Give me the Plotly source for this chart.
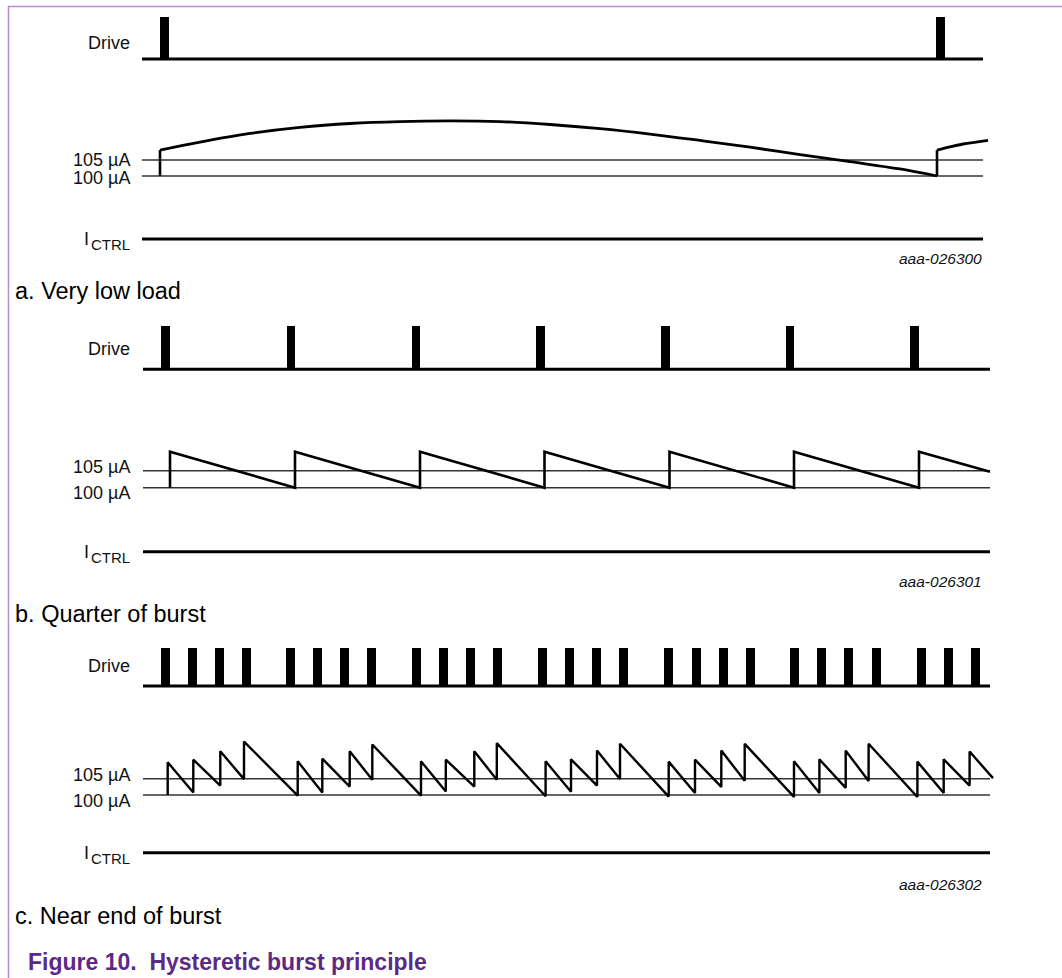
import plotly.graph_objects as go

W, H = 1062, 978

# ---------------- data (time in diagram units, currents in µA) ----------------
# Panel a - very low load
a_span = [142, 983]
a_drive_start = [160, 936]
a_jump_t = [160, 937]
a_jump_from = [100.0, 100.0]
a_jump_to = [108.1, 108.1]
a_curve1_t = [160, 200, 250, 300, 350, 400, 450, 500, 550, 600, 650, 700, 750, 800, 850, 900, 937]
a_curve1_i = [108.1, 110.6, 113.3, 115.2, 116.4, 117.0, 117.2, 117.0, 116.1, 114.8, 113.1, 111.1,
              109.0, 106.7, 104.5, 102.2, 100.0]
a_curve2_t = [937, 950, 963, 976, 988]
a_curve2_i = [108.1, 109.1, 110.0, 110.6, 111.1]

# Panel b - quarter of burst
b_span = [143, 990]
b_drive_start = [161, 286.5, 411.5, 536, 661, 785.5, 910]
b_jump_t = [170, 295, 420, 544.5, 669.5, 794, 919]
b_jump_from = [100.0, 100.0, 100.0, 100.0, 100.0, 100.0, 100.0]
b_jump_to = [110.6, 110.6, 110.6, 110.6, 110.6, 110.6, 110.6]
b_end = [990, 104.7]

# Panel c - near end of burst
c_span = [143, 990]
c_drive_start = [161, 188, 215, 242, 286, 313, 340, 367, 412, 439, 466, 493,
                 538, 565, 592, 619, 664, 692, 719, 746, 790, 817, 844, 872,
                 917, 944, 971]
c_jump_t = [167.7, 193.3, 220.3, 244.0, 297.7, 322.3, 349.7, 372.3,
            421.0, 445.8, 474.3, 496.8, 545.6, 571.0, 597.0, 620.0,
            668.7, 695.0, 721.3, 744.7, 794.0, 819.4, 845.7, 868.6,
            917.4, 943.7, 969.6]
c_jump_from = [100.0, 100.8, 102.9, 104.9, 99.8, 100.8, 102.6, 104.7,
               99.8, 101.1, 102.6, 104.7, 99.6, 101.0, 102.9, 104.9,
               99.5, 100.6, 102.5, 104.4, 99.4, 100.6, 102.2, 104.3,
               99.4, 100.6, 102.9]
c_jump_to = [110.1, 110.9, 113.5, 116.5, 110.4, 111.2, 113.5, 115.6,
             110.4, 110.9, 113.5, 116.0, 110.4, 111.0, 113.7, 115.8,
             110.3, 110.9, 113.7, 115.8, 110.4, 111.0, 113.7, 115.8,
             110.3, 111.0, 113.4]
c_end = [993, 105.2]

thresholds = [105, 100]
pulse_width = 8.6

FONT = "Arial, Liberation Sans, sans-serif"
INK = "#000000"


def yaxis_from(v0, p0, v1, p1, top, bot):
    s = (p0 - p1) / (v1 - v0)
    lo = v0 - (bot - p0) / s
    hi = v0 + (p0 - top) / s
    return dict(domain=[1 - bot / H, 1 - top / H], range=[lo, hi], visible=False,
                fixedrange=True, showgrid=False, zeroline=False)


fig = go.Figure()
layout_axes = {}
annotations = []
ax_counter = [0]


def new_axis(spec):
    ax_counter[0] += 1
    n = ax_counter[0]
    name = "yaxis" if n == 1 else f"yaxis{n}"
    layout_axes[name] = spec
    return "y" if n == 1 else f"y{n}"


def sawtooth(jt, jf, jto, end):
    xs, ys = [], []
    for t, f, to in zip(jt, jf, jto):
        xs += [t, t]
        ys += [f, to]
    xs.append(end[0])
    ys.append(end[1])
    return xs, ys


panels = [
    dict(span=a_span, drive=a_drive_start, drive_px=(59, 17), cur_px=(176, 160), ictrl_px=239,
         code="aaa-026300", code_y=258, caption="a. Very low load", cap_y=291,
         lab=(43, 160, 178, 240)),
    dict(span=b_span, drive=b_drive_start, drive_px=(369.3, 326), cur_px=(487.7, 470.7), ictrl_px=551.7,
         code="aaa-026301", code_y=581, caption="b. Quarter of burst", cap_y=614,
         lab=(349, 466.7, 492.7, 553)),
    dict(span=c_span, drive=c_drive_start, drive_px=(686, 648.3), cur_px=(795, 778.8), ictrl_px=852.7,
         code="aaa-026302", code_y=884, caption="c. Near end of burst", cap_y=916,
         lab=(666, 775, 801, 854)),
]

for k, p in enumerate(panels):
    d0, d1 = p["drive_px"]
    yd = new_axis(yaxis_from(0, d0, 1, d1, d1 - 8, d0 + 8))
    c100, c105 = p["cur_px"]
    yc = new_axis(yaxis_from(100, c100, 105, c105, c105 - 60, c100 + 12))
    yi = new_axis(yaxis_from(0, p["ictrl_px"], 1, p["ictrl_px"] - 10, p["ictrl_px"] - 10, p["ictrl_px"] + 10))

    # Drive baseline + pulses
    fig.add_trace(go.Scatter(x=p["span"], y=[0, 0], mode="lines", yaxis=yd,
                             line=dict(color=INK, width=3), hoverinfo="skip"))
    fig.add_trace(go.Bar(x=[s + pulse_width / 2 for s in p["drive"]], y=[1] * len(p["drive"]),
                         base=0, width=pulse_width, yaxis=yd, marker=dict(color=INK, line=dict(width=0)),
                         hoverinfo="skip"))
    # Threshold lines
    for th in thresholds:
        fig.add_trace(go.Scatter(x=p["span"], y=[th, th], mode="lines", yaxis=yc,
                                 line=dict(color="#333333", width=1.4), hoverinfo="skip"))
    # ICTRL
    fig.add_trace(go.Scatter(x=p["span"], y=[0, 0], mode="lines", yaxis=yi,
                             line=dict(color=INK, width=3), hoverinfo="skip"))

    # current waveform
    if k == 0:
        for t, f, to in zip(a_jump_t, a_jump_from, a_jump_to):
            fig.add_trace(go.Scatter(x=[t, t], y=[f, to], mode="lines", yaxis=yc,
                                     line=dict(color=INK, width=2.6), hoverinfo="skip"))
        for xs, ys in ((a_curve1_t, a_curve1_i), (a_curve2_t, a_curve2_i)):
            fig.add_trace(go.Scatter(x=xs, y=ys, mode="lines", yaxis=yc,
                                     line=dict(color=INK, width=2.8, shape="spline", smoothing=1.0),
                                     hoverinfo="skip"))
    elif k == 1:
        xs, ys = sawtooth(b_jump_t, b_jump_from, b_jump_to, b_end)
        fig.add_trace(go.Scatter(x=xs, y=ys, mode="lines", yaxis=yc,
                                 line=dict(color=INK, width=2.6), hoverinfo="skip"))
    else:
        xs, ys = sawtooth(c_jump_t, c_jump_from, c_jump_to, c_end)
        fig.add_trace(go.Scatter(x=xs, y=ys, mode="lines", yaxis=yc,
                                 line=dict(color=INK, width=2.4), hoverinfo="skip"))

    ly_drive, ly105, ly100, ly_i = p["lab"]
    lab_x = 132 / W
    for txt, yy in (("Drive", ly_drive), ("105 µA", ly105), ("100 µA", ly100)):
        annotations.append(dict(x=lab_x, y=1 - yy / H, xref="paper", yref="paper", text=txt,
                                showarrow=False, xanchor="right", yanchor="middle",
                                font=dict(family=FONT, size=18, color="#111111")))
    # I with CTRL subscript (two pieces so the subscript keeps its size)
    annotations.append(dict(x=91 / W, y=1 - (ly_i - 1) / H, xref="paper", yref="paper", text="I",
                            showarrow=False, xanchor="right", yanchor="middle",
                            font=dict(family=FONT, size=18, color="#111111")))
    annotations.append(dict(x=lab_x, y=1 - (ly_i + 4) / H, xref="paper", yref="paper", text="CTRL",
                            showarrow=False, xanchor="right", yanchor="middle",
                            font=dict(family=FONT, size=15, color="#111111")))
    annotations.append(dict(x=984 / W, y=1 - p["code_y"] / H, xref="paper", yref="paper",
                            text=f"<i>{p['code']}</i>", showarrow=False, xanchor="right",
                            yanchor="middle", font=dict(family=FONT, size=15.5, color="#111111")))
    annotations.append(dict(x=13 / W, y=1 - p["cap_y"] / H, xref="paper", yref="paper",
                            text=p["caption"], showarrow=False, xanchor="left", yanchor="middle",
                            font=dict(family=FONT, size=23.5, color="#000000")))

annotations.append(dict(x=26 / W, y=1 - 962 / H, xref="paper", yref="paper",
                        text="<b>Figure 10.  Hysteretic burst principle</b>", showarrow=False,
                        xanchor="left", yanchor="middle",
                        font=dict(family=FONT, size=23, color="#5b2a86")))

shapes = [
    dict(type="line", xref="paper", yref="paper", x0=8 / W, x1=1, y0=1 - 6.5 / H, y1=1 - 6.5 / H,
         line=dict(color="#b58ed2", width=1.5)),
    dict(type="line", xref="paper", yref="paper", x0=8.5 / W, x1=8.5 / W, y0=1 - 6 / H, y1=0,
         line=dict(color="#b58ed2", width=1.5)),
]

fig.update_layout(
    width=W, height=H, margin=dict(l=0, r=0, t=0, b=0, pad=0),
    paper_bgcolor="white", plot_bgcolor="rgba(0,0,0,0)", showlegend=False,
    barmode="overlay", bargap=0, hovermode=False,
    xaxis=dict(range=[0, W], domain=[0, 1], visible=False, fixedrange=True),
    annotations=annotations, shapes=shapes,
    **layout_axes,
)

fig.write_html("out.html", config={"displayModeBar": False, "staticPlot": True},
               post_script="document.body.style.margin='0px';")
